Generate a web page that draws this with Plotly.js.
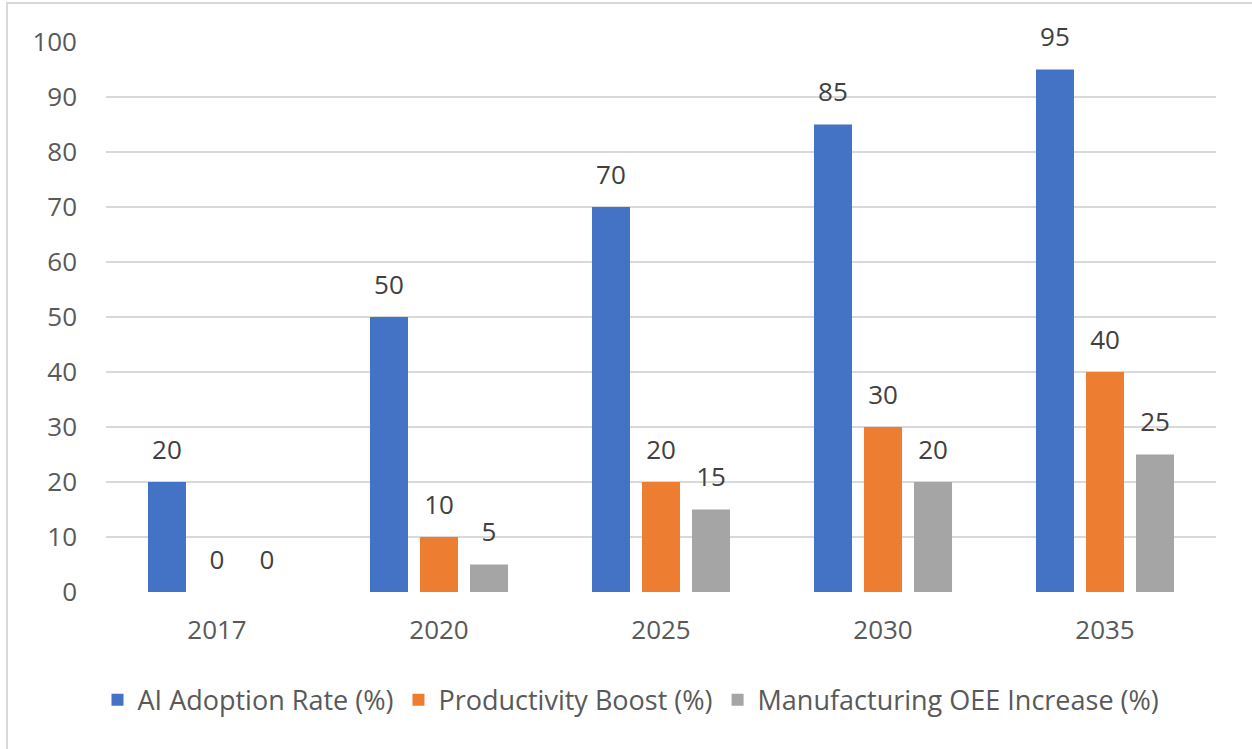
<!DOCTYPE html>
<html>
<head>
<meta charset="utf-8">
<script src="https://cdn.plot.ly/plotly-3.0.1.min.js"></script>
<style>
  html, body { margin: 0; padding: 0; background: #ffffff; }
  #frame { position: absolute; left: 6px; top: 2px; width: 1300px; height: 800px;
           border-left: 2px solid #d9d9d9; border-top: 2px solid #d9d9d9; }
  #chart { position: absolute; left: 0; top: 0; width: 1252px; height: 749px; }
</style>
</head>
<body>
<div id="frame"></div>
<div id="chart"></div>
<script>
const years = ['2017', '2020', '2025', '2030', '2035'];
const seriesNames = ['AI Adoption Rate (%)', 'Productivity Boost (%)', 'Manufacturing OEE Increase (%)'];
const aiAdoption = [20, 50, 70, 85, 95];
const productivity = [0, 10, 20, 30, 40];
const oeeIncrease = [0, 5, 15, 20, 25];
const yTicks = [0, 10, 20, 30, 40, 50, 60, 70, 80, 90, 100];

const colors = ['#4472C4', '#ED7D31', '#A5A5A5'];
const FONT = '"Open Sans", "Noto Sans", sans-serif';
const values = [aiAdoption, productivity, oeeIncrease];

const traces = [];
values.forEach((v, i) => {
  traces.push({
    type: 'bar', name: seriesNames[i], x: years, y: v,
    offsetgroup: String(i),
    marker: { color: colors[i] },
    hoverinfo: 'x+y+name'
  });
});
values.forEach((v, i) => {
  traces.push({
    type: 'scatter', mode: 'markers+text', x: years, y: v,
    offsetgroup: String(i),
    text: v.map(String), textposition: 'top center',
    textfont: { family: FONT, size: 26, color: '#404040' },
    marker: { size: 25, opacity: 0, color: colors[i] },
    showlegend: false, hoverinfo: 'skip', cliponaxis: false
  });
});

const layout = {
  width: 1252, height: 749,
  margin: { l: 106, r: 36, t: 42, b: 157, pad: 0 },
  paper_bgcolor: 'rgba(0,0,0,0)', plot_bgcolor: 'rgba(0,0,0,0)',
  font: { family: FONT, size: 26, color: '#595959' },
  barmode: 'group', bargap: 0.324, bargroupgap: 0.24,
  scattermode: 'group', scattergap: 0.324,
  xaxis: {
    type: 'category', showgrid: false, zeroline: false, showline: false,
    ticks: '', ticklabelstandoff: 20,
    tickfont: { family: FONT, size: 26, color: '#595959' }
  },
  yaxis: {
    range: [0, 100], tickvals: yTicks, ticktext: yTicks.map(String),
    showgrid: true, gridcolor: '#d9d9d9', gridwidth: 2,
    zeroline: false, showline: false, ticks: '', ticklabelstandoff: 28,
    tickfont: { family: FONT, size: 26, color: '#595959' }
  },
  showlegend: true,
  legend: {
    orientation: 'h', xref: 'container', yref: 'container',
    x: 0.504, xanchor: 'center', y: 0.065, yanchor: 'middle',
    font: { family: FONT, size: 27, color: '#595959' },
    bgcolor: 'rgba(0,0,0,0)', itemclick: false, itemdoubleclick: false
  }
};

Plotly.newPlot('chart', traces, layout, { displayModeBar: false, staticPlot: true });
</script>
</body>
</html>
